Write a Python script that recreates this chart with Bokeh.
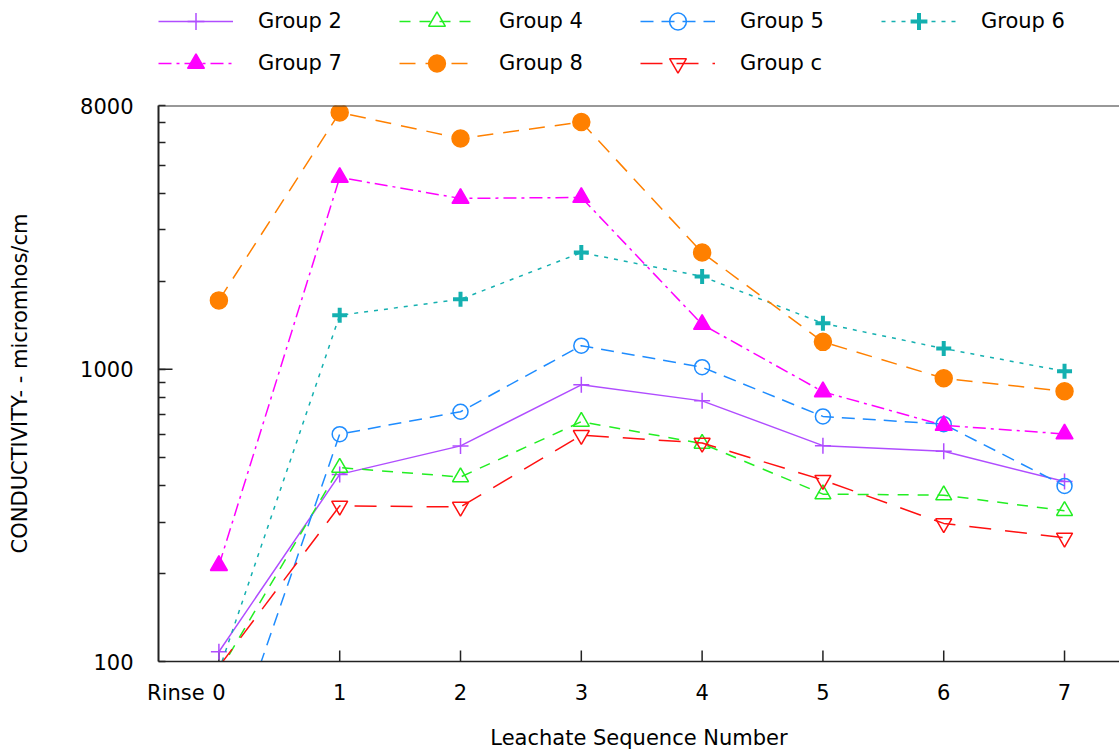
import math
from bokeh.plotting import figure
from bokeh.layouts import column
from bokeh.models import FixedTicker, Legend, LegendItem, Span, NumeralTickFormatter
from bokeh.embed import file_html
from bokeh.resources import INLINE

# ---- data ----
seq = [0, 1, 2, 3, 4, 5, 6, 7]
rinse_pos = -0.356
x_ticks = [rinse_pos] + seq
x_tick_labels = {rinse_pos: "Rinse", 0: "0", 1: "1", 2: "2", 3: "3", 4: "4", 5: "5", 6: "6", 7: "7"}
y_labeled = {100: "100", 1000: "1000", 8000: "8000"}
y_ticks = [100, 200, 300, 400, 500, 600, 700, 800, 900, 1000,
           2000, 3000, 4000, 5000, 6000, 7000, 8000]

group2 = [108, 437, 547, 885, 780, 548, 524, 413]
group4 = [92, 461, 428, 662, 557, 374, 371, 328]
group5 = [38, 600, 716, 1205, 1017, 690, 649, 399]
group6 = [93, 1531, 1737, 2510, 2080, 1437, 1178, 985]
group7 = [213, 4537, 3846, 3876, 1425, 838, 643, 601]
group8 = [1722, 7570, 6170, 7020, 2510, 1242, 932, 841]
groupc = [96, 341, 338, 595, 560, 418, 297, 265]

FONT = "DejaVu Sans"
AXC = "#222222"

series = [
    ("Group 2", group2, "#b04dff", None, "cross", 16, 1.5, False),
    ("Group 4", group4, "#22ee22", "11 9", "triangle", 16, 1.5, False),
    ("Group 5", group5, "#1e8cff", "13 8", "circle", 15, 1.5, False),
    ("Group 6", group6, "#14b0b0", "4 6", "cross", 15, 4, True),
    ("Group 7", group7, "#ff00ff", "13 5 3 5", "triangle", 17, 1.5, True),
    ("Group 8", group8, "#ff8000", "16 10", "circle", 17, 1.5, True),
    ("Group c", groupc, "#ff1010", "22 14", "inverted_triangle", 16, 1.5, False),
]

# ---------------- main chart ----------------
fig = figure(width=1119, height=663, x_range=(-0.5, 7.455), y_range=(100, 8000),
             y_axis_type="log", output_backend="svg", toolbar_location=None,
             min_border_left=158, min_border_right=0, min_border_top=15, min_border_bottom=92)
fig.outline_line_color = None
fig.grid.visible = False
fig.background_fill_color = "white"
fig.border_fill_color = "white"

fig.xaxis.ticker = FixedTicker(ticks=x_ticks)
fig.xaxis.major_label_overrides = x_tick_labels
fig.xaxis.major_tick_in = 0
fig.xaxis.major_tick_out = 0
fig.xaxis.minor_tick_in = 0
fig.xaxis.minor_tick_out = 0
fig.xaxis.axis_line_width = 1.5
fig.xaxis.axis_line_color = AXC
fig.xaxis.axis_label = "Leachate Sequence Number"
fig.xaxis.major_label_standoff = 19
fig.xaxis.axis_label_standoff = 18

fig.yaxis.ticker = FixedTicker(ticks=y_ticks)
fig.yaxis.formatter = NumeralTickFormatter(format="0")
fig.yaxis.major_label_overrides = {t: y_labeled.get(t, "") for t in y_ticks}
fig.yaxis.major_tick_in = 7
fig.yaxis.major_tick_out = 0
fig.yaxis.minor_tick_in = 0
fig.yaxis.minor_tick_out = 0
fig.yaxis.axis_line_width = 2
fig.yaxis.axis_line_color = AXC
fig.yaxis.major_tick_line_color = AXC
fig.yaxis.major_tick_line_width = 1.5
fig.yaxis.axis_label = "CONDUCTIVITY- - micromhos/cm"
fig.yaxis.major_label_standoff = 25
fig.yaxis.axis_label_standoff = 45

for ax in (fig.xaxis, fig.yaxis):
    ax.major_label_text_font = FONT
    ax.major_label_text_font_size = "21px"
    ax.major_label_text_color = "black"
    ax.axis_label_text_font = FONT
    ax.axis_label_text_font_size = "21px"
    ax.axis_label_text_font_style = "normal"
    ax.axis_label_text_color = "black"

# top border of the frame
fig.add_layout(Span(location=8000, dimension="width", line_color="#333333", line_width=2))

# x tick marks (inward) at the sequence numbers, longer tick at 1000 on the y axis
fig.scatter(seq, [y_ticks[0]] * len(seq), marker="dash", angle=math.pi / 2, size=22,
            line_color=AXC, line_width=1.5)
fig.scatter([-0.5], [1000], marker="dash", size=28, line_color=AXC, line_width=1.5)

for name, vals, color, dash, marker, size, mlw, filled in series:
    line_kwargs = dict(line_color=color, line_width=1.5)
    if dash is not None:
        line_kwargs["line_dash"] = dash
    fig.line(seq, vals, **line_kwargs)
    fig.scatter(seq, vals, marker=marker, size=size, line_color=color, line_width=mlw,
                fill_color=color if filled else None)

# ---------------- legend strip ----------------
leg = figure(width=1119, height=90, x_range=(0, 1), y_range=(0, 1),
             output_backend="svg", toolbar_location=None, min_border=0)
leg.axis.visible = False
leg.grid.visible = False
leg.outline_line_color = None
leg.background_fill_color = "white"
leg.border_fill_color = "white"

items = []
for name, vals, color, dash, marker, size, mlw, filled in series:
    line_kwargs = dict(line_color=color, line_width=1.5)
    if dash is not None:
        line_kwargs["line_dash"] = dash
    lr = leg.line(seq, vals, visible=False, **line_kwargs)
    sr = leg.scatter(seq, vals, marker=marker, size=size, line_color=color, line_width=mlw,
                     fill_color=color if filled else None, visible=False)
    items.append(LegendItem(label=name, renderers=[lr, sr]))

legend = Legend(items=items, orientation="horizontal", ncols=4, location=(0, 6),
                glyph_width=75, glyph_height=42, label_width=141, label_height=42,
                label_standoff=25, spacing=0, padding=0, margin=0,
                border_line_color=None, background_fill_alpha=0,
                inactive_fill_alpha=0,
                label_text_font=FONT, label_text_font_size="21px", label_text_color="black")
leg.add_layout(legend)

p = column(leg, fig, spacing=0)

open("out.html", "w").write(file_html(p, INLINE))
